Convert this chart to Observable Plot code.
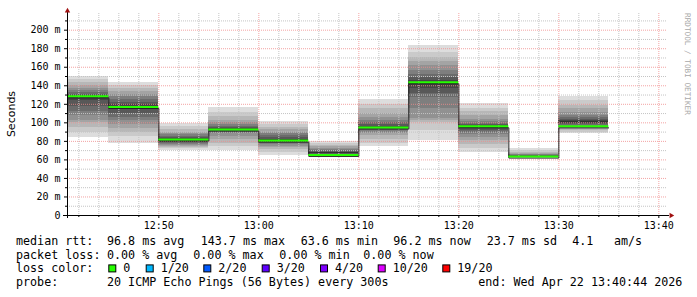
<!DOCTYPE html>
<html>
<head>
<meta charset="utf-8">
<script src="https://cdn.jsdelivr.net/npm/d3@7"></script>
<script src="https://cdn.jsdelivr.net/npm/@observablehq/plot@0.6"></script>
<style>
  html, body { margin: 0; padding: 0; background: #ffffff; }
  #chart svg { display: block; }
</style>
</head>
<body>
<div id="chart"></div>
<script>
// ---------------- data ----------------
const day = "2026-04-22";
const viewStart = "12:40:52";
const viewEnd = "13:40:52";
const stepStarts = ["12:40", "12:45", "12:50", "12:55", "13:00", "13:05", "13:10", "13:15", "13:20", "13:25", "13:30"];
const stepMinutes = 5;
// median rtt per step (ms)
const medians = [128.6, 117.2, 82.0, 92.7, 80.9, 65.4, 95.0, 143.7, 96.3, 63.6, 96.2];
// 20 sorted ping rtts per step (ms) — the "smoke"
const pings = [
  [84, 90, 95, 100, 103, 108, 112, 118, 124, 127, 129, 130, 131, 133, 135, 137, 140, 143, 147, 150],
  [78, 85, 90, 94, 98, 102, 106, 110, 114, 116, 118, 120, 122, 125, 128, 131, 134, 137, 140, 143],
  [70, 72, 73, 75, 76, 77, 78, 79, 80, 81, 82.5, 83, 84, 85, 87, 88, 90, 93, 96, 99],
  [70, 74, 78, 82, 85, 88, 90, 91, 92, 92.5, 93, 94, 95, 96, 98, 100, 103, 107, 111, 117],
  [65, 68, 71, 73, 75, 77, 78, 79, 80, 81, 81.5, 82, 84, 86, 88, 90, 93, 95, 98, 101],
  [63, 64, 64.5, 65, 65, 65.5, 66, 66, 67, 67, 68, 68, 69, 70, 71, 72, 74, 76, 78, 80],
  [74, 78, 82, 86, 88, 90, 92, 93, 94, 95, 95.5, 96, 98, 100, 103, 106, 110, 115, 120, 125],
  [81, 92, 100, 102, 105, 115, 127, 132, 137, 141, 144, 146, 149, 152, 157, 162, 166, 171, 176, 183],
  [68, 72, 77, 81, 84, 87, 90, 92, 94, 95.5, 96.5, 97, 98, 99, 101, 104, 108, 112, 116, 121],
  [62, 62.5, 63, 63, 63.2, 63.4, 63.5, 63.6, 63.6, 63.6, 63.7, 64, 64.5, 65, 65.5, 66, 67, 68, 70, 72],
  [88, 90, 92, 94, 95, 96, 97, 98, 99, 100, 101, 102, 104, 106, 108, 111, 115, 119, 124, 128]
];
const yMax = 218;
const yMajorTicks = [0, 20, 40, 60, 80, 100, 120, 140, 160, 180, 200];
const yMinorTicks = [10, 30, 50, 70, 90, 110, 130, 150, 170, 190, 210];
const xMajorTicks = ["12:50", "13:00", "13:10", "13:20", "13:30", "13:40"];
const yTitle = "Seconds";
const watermark = "RRDTOOL / TOBI OETIKER";

const lossLabels = ["0", "1/20", "2/20", "3/20", "4/20", "10/20", "19/20"];
const lossColors = ["#26ff00", "#00b8ff", "#0059ff", "#5e00ff", "#7e00ff", "#dd00ff", "#ff0000"];

const legendLine1 = [["median rtt:", 0], ["96.8 ms avg", 1], ["143.7 ms max", 2], ["63.6 ms min", 3], ["96.2 ms now", 4], ["23.7 ms sd", 5], ["4.1", 6], ["am/s", 7]];
const legendLine2 = [["packet loss:", 0], ["0.00 % avg", 1], ["0.00 % max", 2], ["0.00 % min", 3], ["0.00 % now", 4]];
const legendLine3Title = "loss color:";
const legendLine4 = [["probe:", 0], ["20 ICMP Echo Pings (56 Bytes) every 300s", 1], ["end: Wed Apr 22 13:40:44 2026", 2]];

// ---------------- layout (pixels) ----------------
const L1x = [16, 107, 200.7, 300.7, 393.3, 486.7, 572.3, 614];
const L2x = [16, 107, 193.3, 279.3, 363.3];
const L4x = [16, 107, 478.3];
const boxX = [108.3, 145.7, 203.3, 261.7, 320, 377.7, 442.3];
const lineBase = [245, 258.7, 272.4, 286.1];

// ---------------- build ----------------
const T = s => new Date(`${day}T${s.length === 5 ? s + ":00" : s}Z`);
const x0 = T(viewStart), x1 = T(viewEnd);
const steps = stepStarts.map((s, i) => ({
  start: T(s),
  end: new Date(T(s).getTime() + stepMinutes * 60000),
  median: medians[i]
}));
const smoke = [];
steps.forEach((st, si) => {
  const p = pings[si];
  for (let i = 1; i <= 10; i++) {
    const g = Math.floor(190 / 10 * (10 - i)) + 50;
    smoke.push({x1: st.start, x2: st.end, y1: p[i - 1], y2: p[20 - i], fill: `rgb(${g},${g},${g})`});
  }
});
const medLine = steps.map(d => ({t: d.start, v: d.median}));
medLine.push({t: steps[steps.length - 1].end, v: medians[medians.length - 1]});

const majorX = xMajorTicks.map(T);
const minorX = d3.utcMinute.every(2).range(x0, x1).filter(d => d.getUTCMinutes() % 10 !== 0);

// pixel helpers for decorations (plot is 600px wide for 60 min, 202px high for yMax)
const secPerPx = 6;
const msPerPx = yMax / 202;
const xShift = px => new Date(x0.getTime() + px * secPerPx * 1000);
const xShiftEnd = px => new Date(x1.getTime() + px * secPerPx * 1000);

const chart = Plot.plot({
  width: 697,
  height: 297,
  marginLeft: 67,
  marginRight: 30,
  marginTop: 13,
  marginBottom: 82,
  style: {fontFamily: "'DejaVu Sans Mono', monospace", fontSize: "10px", background: "#ffffff", color: "#000000", overflow: "visible"},
  x: {type: "utc", domain: [x0, x1], label: null},
  y: {domain: [0, yMax], label: null},
  marks: [
    Plot.rect(smoke, {x1: "x1", x2: "x2", y1: "y1", y2: "y2", fill: "fill", clip: true, shapeRendering: "crispEdges"}),
    Plot.gridY(yMinorTicks, {stroke: "#c4c4c4", strokeOpacity: 1, strokeDasharray: "1,1"}),
    Plot.gridX(minorX, {stroke: "#c4c4c4", strokeOpacity: 1, strokeDasharray: "1,1"}),
    Plot.gridY(yMajorTicks.filter(d => d > 0), {stroke: "#f08c8c", strokeOpacity: 0.8, strokeDasharray: "1,1"}),
    Plot.gridX(majorX, {stroke: "#f08c8c", strokeOpacity: 0.8, strokeDasharray: "1,1"}),
    Plot.line(medLine, {x: "t", y: "v", curve: "step-after", stroke: "#202020", strokeWidth: 1, dy: 1.5, clip: true}),
    Plot.ruleY(steps, {y: "median", x1: "start", x2: "end", stroke: lossColors[0], strokeWidth: 2, clip: true}),
    Plot.axisY(yMajorTicks, {tickSize: 3, tickPadding: 4, tickFormat: d => d === 0 ? "0" : `${d} m`, label: null}),
    Plot.axisY(yMinorTicks, {tickSize: 2, tickFormat: () => "", label: null}),
    Plot.axisX(majorX, {tickSize: 3, tickPadding: 3, tickFormat: d3.utcFormat("%H:%M"), label: null}),
    Plot.axisX(minorX, {tickSize: 2, tickFormat: () => "", label: null}),
    // axis lines with arrows
    Plot.ruleX([x0], {y1: -3 * msPerPx, y2: yMax + 4 * msPerPx, stroke: "#000"}),
    Plot.ruleY([0], {x1: xShift(-4), x2: xShiftEnd(2), stroke: "#000"}),
    Plot.dot([{x: x0, y: yMax + 2.6 * msPerPx}], {x: "x", y: "y", symbol: "triangle", r: 2, fill: "#a01010", stroke: "none"}),
    Plot.dot([{x: xShiftEnd(3.6), y: 0}], {x: "x", y: "y", symbol: "triangle", r: 2, rotate: 90, fill: "#a01010", stroke: "none"})
  ]
});

const svg = d3.select(chart);
// y title
svg.append("text")
  .attr("transform", "translate(15,114) rotate(-90)")
  .attr("text-anchor", "middle")
  .style("font-family", "'DejaVu Sans', sans-serif")
  .style("font-size", "11px")
  .attr("fill", "#000")
  .text(yTitle);
// watermark
svg.append("text")
  .attr("transform", "translate(684.5,13) rotate(90)")
  .attr("text-anchor", "start")
  .style("font-family", "'DejaVu Sans Mono', monospace")
  .style("font-size", "7.7px")
  .attr("fill", "#a8a8a8")
  .text(watermark);

// legend
const lg = svg.append("g")
  .attr("text-anchor", "start")
  .style("font-family", "'DejaVu Sans Mono', monospace")
  .style("font-size", "11.7px")
  .attr("fill", "#000");
const putLine = (items, xs, base) => items.forEach(([txt, k]) => {
  lg.append("text").attr("x", xs[k]).attr("y", base).attr("text-anchor", "start").text(txt);
});
putLine(legendLine1, L1x, lineBase[0]);
putLine(legendLine2, L2x, lineBase[1]);
lg.append("text").attr("x", 16).attr("y", lineBase[2]).attr("text-anchor", "start").text(legendLine3Title);
lossLabels.forEach((lab, i) => {
  lg.append("rect")
    .attr("x", boxX[i] + 0.5).attr("y", lineBase[2] - 7.5)
    .attr("width", 7).attr("height", 7)
    .attr("fill", lossColors[i]).attr("stroke", "#000").attr("stroke-width", 1);
  lg.append("text").attr("x", boxX[i] + 15).attr("y", lineBase[2]).attr("text-anchor", "start").text(lab);
});
putLine(legendLine4, L4x, lineBase[3]);

document.getElementById("chart").appendChild(chart);
</script>
</body>
</html>
